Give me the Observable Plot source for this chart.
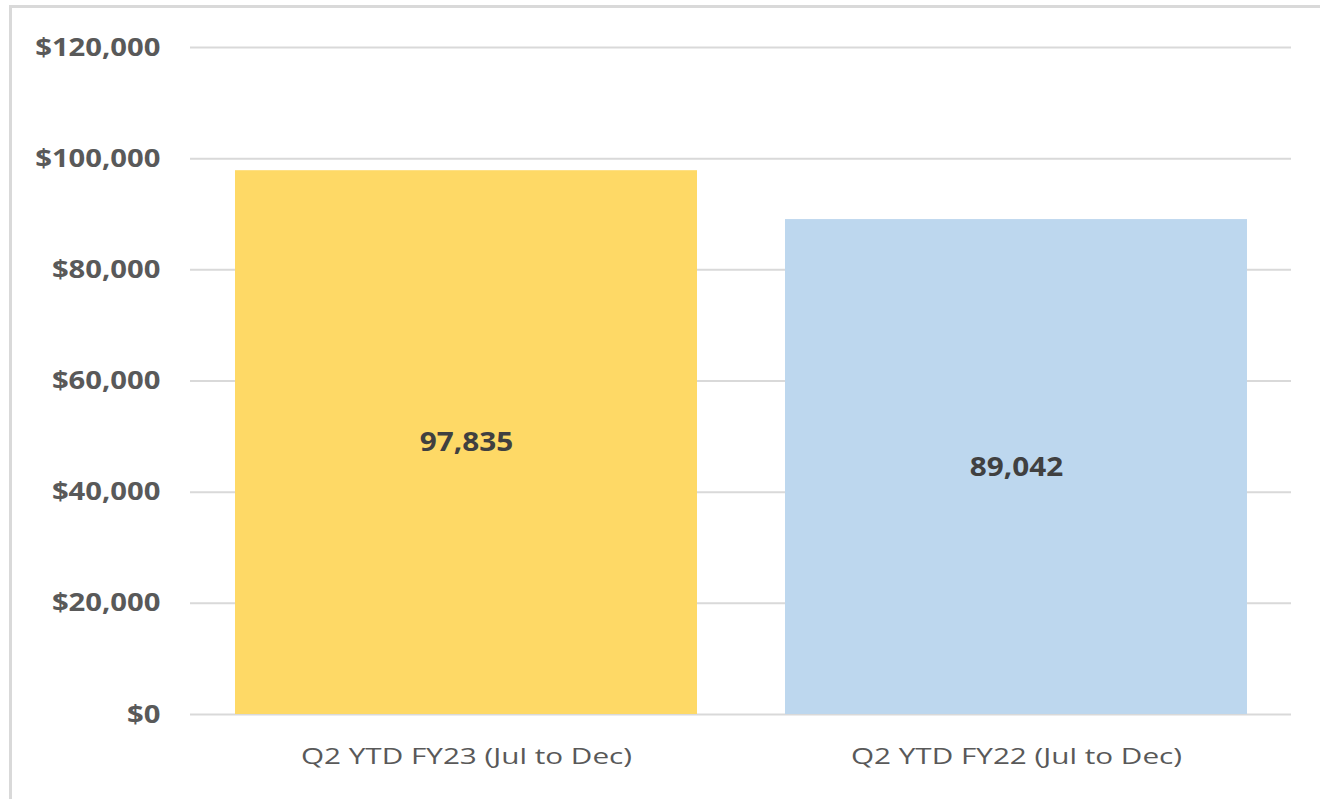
<!DOCTYPE html>
<html>
<head>
<meta charset="utf-8">
<script src="https://cdn.jsdelivr.net/npm/d3@7"></script>
<script src="https://cdn.jsdelivr.net/npm/@observablehq/plot@0.6"></script>
<style>
  html, body { margin: 0; padding: 0; background: #fff; }
  #wrap { position: relative; width: 1320px; height: 799px; overflow: hidden; }
  #frame { position: absolute; left: 9px; top: 5px; width: 1400px; height: 900px;
           border-top: 3px solid #d9d9d9; border-left: 3px solid #d9d9d9; box-sizing: border-box; }
  #chart { position: absolute; left: 0; top: 0; }
</style>
</head>
<body>
<div id="wrap"><div id="frame"></div><div id="chart"></div></div>
<script>
const categories = ["Q2 YTD FY23 (Jul to Dec)", "Q2 YTD FY22 (Jul to Dec)"];
const values = [97835, 89042];
const barColors = ["#FED966", "#BDD7EE"];
const yTicks = [0, 20000, 40000, 60000, 80000, 100000, 120000];

const data = categories.map((c, i) => ({category: c, value: values[i], color: barColors[i]}));
const fmtDollar = d => "$" + d3.format(",")(d);

const chart = Plot.plot({
  width: 1320,
  height: 799,
  marginLeft: 190,
  marginRight: 29,
  marginTop: 47,
  marginBottom: 85,
  style: {fontFamily: "'Open Sans', sans-serif", background: "transparent"},
  x: {domain: categories, paddingInner: 0.16, paddingOuter: 0.08, label: null},
  y: {domain: [0, 120000], label: null},
  marks: [
    Plot.ruleY(yTicks, {stroke: "#d9d9d9", strokeWidth: 2}),
    Plot.barY(data, {x: "category", y: "value", fill: d => d.color}),
    Plot.text(data, {x: "category", y: d => d.value / 2, text: d => d3.format(",")(d.value),
      fill: "#404040", fontSize: 27, fontWeight: "bold"}),
    Plot.axisY({ticks: yTicks, tickFormat: fmtDollar, tickSize: 0, tickPadding: 30,
      fontSize: 25, fontWeight: "bold", fill: "#595959", label: null}),
    Plot.axisX({tickSize: 0, tickPadding: 34, fontSize: 22, fill: "#595959", label: null})
  ]
});

// horizontal stretch of text to mimic the reference's wide glyphs
function stretch(sel, s) {
  d3.select(chart).selectAll(sel).each(function() {
    const ax = +(this.getAttribute("x") || 0);
    const t = this.getAttribute("transform") || "";
    this.setAttribute("transform", `${t} translate(${ax},0) scale(${s},1) translate(${-ax},0)`);
  });
}
stretch("g[aria-label='x-axis tick label'] text", 1.35);
stretch("g[aria-label='y-axis tick label'] text", 1.17);
stretch("g[aria-label='text'] text", 1.1);

document.getElementById("chart").appendChild(chart);
</script>
</body>
</html>
